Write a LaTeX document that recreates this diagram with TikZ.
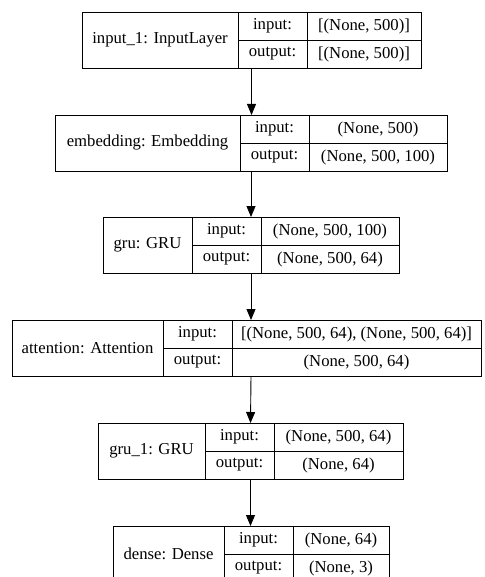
\documentclass[tikz,border=0pt]{standalone}
\usepackage{fontspec}
\setmainfont{Liberation Serif}
\usepackage{tikz}
\usetikzlibrary{arrows.meta, fit}
\tikzset{
    cell/.style={draw, rectangle, inner sep=0pt, outer sep=0pt, minimum height=28pt,
        line width=0.9pt, font=\fontsize{16.7pt}{19pt}\selectfont},
    namecell/.style={cell, minimum height=56pt, anchor=north west},
    portcell/.style={cell, minimum width=69pt, anchor=north west},
    shapecell/.style={cell, anchor=north west},
    layerbox/.style={draw, rectangle, inner sep=0pt, outer sep=0pt, line width=0.9pt},
    flow/.style={-{Triangle[length=11pt, width=9pt]}, line width=0.9pt}
}

\begin{document}
\begin{tikzpicture}[x=1pt, y=-1pt]
            \useasboundingbox (0,0) rectangle (484,577);
            \clip (0,0) rectangle (484,577);

            % input_1
            \node[namecell, minimum width=156pt] (n1) at (82,12) {input\_1: InputLayer};
            \node[portcell] (p1i) at (n1.north east) {input:};
            \node[portcell] (p1o) at (p1i.south west) {output:};
            \node[shapecell, minimum width=114pt] (s1i) at (p1i.north east) {[(None, 500)]};
            \node[shapecell, minimum width=114pt] (s1o) at (p1o.north east) {[(None, 500)]};
            \node[layerbox, fit=(n1)(s1o)] (l1) {};

            % embedding
            \node[namecell, minimum width=185pt] (n2) at (55,115) {embedding: Embedding};
            \node[portcell] (p2i) at (n2.north east) {input:};
            \node[portcell] (p2o) at (p2i.south west) {output:};
            \node[shapecell, minimum width=138pt] (s2i) at (p2i.north east) {(None, 500)};
            \node[shapecell, minimum width=138pt] (s2o) at (p2o.north east) {(None, 500, 100)};
            \node[layerbox, fit=(n2)(s2o)] (l2) {};

            % gru
            \node[namecell, minimum width=89pt] (n3) at (103,217) {gru: GRU};
            \node[portcell] (p3i) at (n3.north east) {input:};
            \node[portcell] (p3o) at (p3i.south west) {output:};
            \node[shapecell, minimum width=138pt] (s3i) at (p3i.north east) {(None, 500, 100)};
            \node[shapecell, minimum width=138pt] (s3o) at (p3o.north east) {(None, 500, 64)};
            \node[layerbox, fit=(n3)(s3o)] (l3) {};

            % attention
            \node[namecell, minimum width=151pt] (n4) at (12,320) {attention: Attention};
            \node[portcell] (p4i) at (n4.north east) {input:};
            \node[portcell] (p4o) at (p4i.south west) {output:};
            \node[shapecell, minimum width=249pt] (s4i) at (p4i.north east) {[(None, 500, 64), (None, 500, 64)]};
            \node[shapecell, minimum width=249pt] (s4o) at (p4o.north east) {(None, 500, 64)};
            \node[layerbox, fit=(n4)(s4o)] (l4) {};

            % gru_1
            \node[namecell, minimum width=107pt] (n5) at (98,423) {gru\_1: GRU};
            \node[portcell] (p5i) at (n5.north east) {input:};
            \node[portcell] (p5o) at (p5i.south west) {output:};
            \node[shapecell, minimum width=129pt] (s5i) at (p5i.north east) {(None, 500, 64)};
            \node[shapecell, minimum width=129pt] (s5o) at (p5o.north east) {(None, 64)};
            \node[layerbox, fit=(n5)(s5o)] (l5) {};

            % dense
            \node[namecell, minimum width=111pt] (n6) at (113,526) {dense: Dense};
            \node[portcell] (p6i) at (n6.north east) {input:};
            \node[portcell] (p6o) at (p6i.south west) {output:};
            \node[shapecell, minimum width=96pt] (s6i) at (p6i.north east) {(None, 64)};
            \node[shapecell, minimum width=96pt] (s6o) at (p6o.north east) {(None, 3)};
            \node[layerbox, fit=(n6)(s6o)] (l6) {};

            \draw[flow] (l1.south) -- (l1.south |- l2.north);
            \draw[flow] (l2.south) -- (l2.south |- l3.north);
            \draw[flow] (l3.south) -- (l3.south |- l4.north);
            \draw[flow] (l4.south -| l3.south) -- (l5.north);
            \draw[flow] (l5.south) -- (l5.south |- l6.north);
        \end{tikzpicture}
\end{document}
